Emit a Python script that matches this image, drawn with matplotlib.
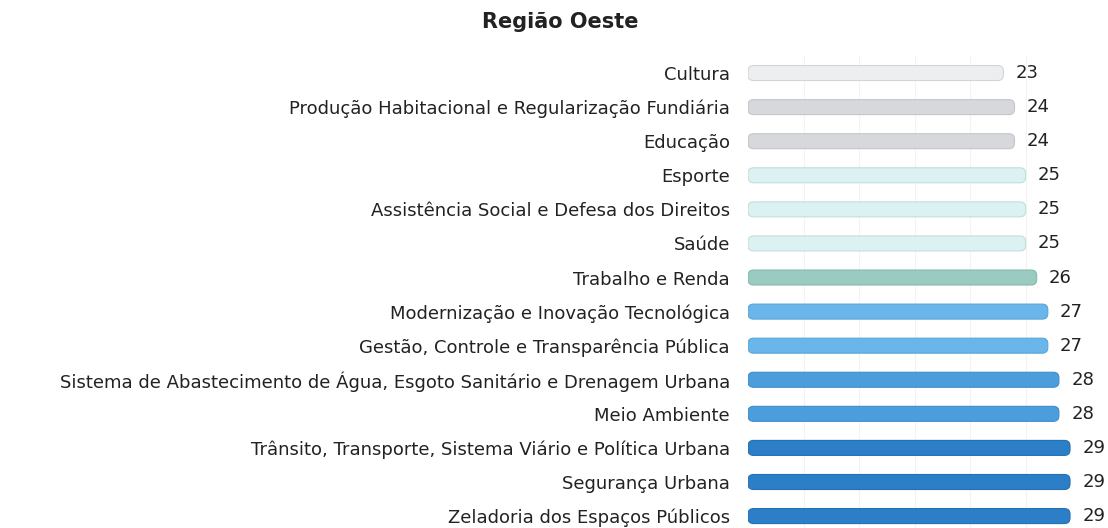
import matplotlib.pyplot as plt
from matplotlib.patches import FancyBboxPatch
import numpy as np

plt.rcParams['font.family'] = ['DejaVu Sans']

categorias = [
    'Cultura',
    'Produção Habitacional e Regularização Fundiária',
    'Educação',
    'Esporte',
    'Assistência Social e Defesa dos Direitos',
    'Saúde',
    'Trabalho e Renda',
    'Modernização e Inovação Tecnológica',
    'Gestão, Controle e Transparência Pública',
    'Sistema de Abastecimento de Água, Esgoto Sanitário e Drenagem Urbana',
    'Meio Ambiente',
    'Trânsito, Transporte, Sistema Viário e Política Urbana',
    'Segurança Urbana',
    'Zeladoria dos Espaços Públicos',
]
valores = [23, 24, 24, 25, 25, 25, 26, 27, 27, 28, 28, 29, 29, 29]
cores = ['#eceef0', '#d6d8db', '#d6d8db', '#dcf1f1', '#dcf1f1', '#dcf1f1',
         '#99cbc0', '#6ab6ea', '#6ab6ea', '#4b9edb', '#4b9edb',
         '#2c7fc6', '#2c7fc6', '#2c7fc6']
bordas = ['#d2d5d8', '#c3c6ca', '#c3c6ca', '#c2dede', '#c2dede', '#c2dede',
          '#86b9ae', '#58a5d9', '#58a5d9', '#3d8dcb', '#3d8dcb',
          '#2470b2', '#2470b2', '#2470b2']

fig = plt.figure(figsize=(11.08, 5.28), dpi=100)
ax = fig.add_axes([748 / 1108, 0, 352 / 1108, 472 / 528])

y = np.arange(len(categorias))
bars = ax.barh(y, valores, height=0.44, color=cores, edgecolor='none')

# barras com pontas arredondadas (efeito cilindro)
aspecto = (352 / 31.7) / (472 / 13.85)
for b, c, e in zip(bars, cores, bordas):
    b.set_visible(False)
    p = FancyBboxPatch((b.get_x(), b.get_y()), b.get_width(), b.get_height(),
                       boxstyle='round,pad=0,rounding_size=0.5',
                       mutation_aspect=aspecto, facecolor=c, edgecolor=e,
                       lw=0.8)
    ax.add_patch(p)

for b, v in zip(bars, valores):
    ax.text(v + 1.1, b.get_y() + b.get_height() / 2, str(v), va='center',
            ha='left', fontsize=13, color='#222222')

ax.set_xlim(0, 31.7)
ax.set_ylim(13.35, -0.5)
ax.set_yticks(y)
ax.set_yticklabels(categorias, fontsize=13, color='#222222')
ax.tick_params(axis='y', length=0, pad=13)
ax.set_xticks([5, 10, 15, 20, 25])
ax.tick_params(axis='x', length=0, labelbottom=False)
ax.grid(axis='x', color='#f3f3f3', lw=0.8)
ax.set_axisbelow(True)
for s in ax.spines.values():
    s.set_visible(False)

fig.text(560 / 1108, 1 - 22 / 528, 'Região Oeste', ha='center', va='center',
         fontsize=15, fontweight='bold', color='#222222')

fig.savefig('out.png', dpi=100)
